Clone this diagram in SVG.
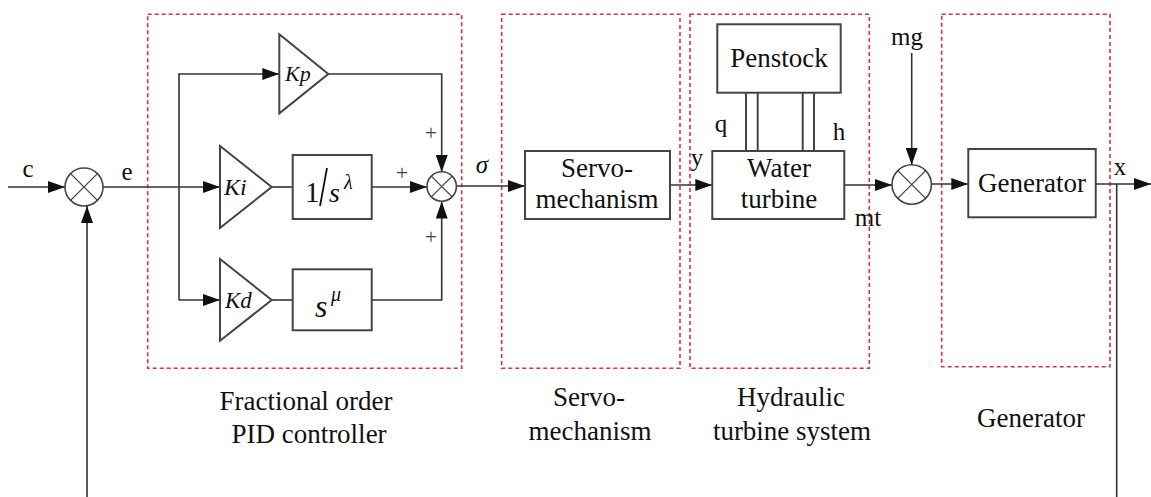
<svg xmlns="http://www.w3.org/2000/svg" width="1151" height="497" viewBox="0 0 1151 497" font-family="'Liberation Serif', 'DejaVu Serif', serif">
<defs>
<marker id="arr" markerUnits="userSpaceOnUse" markerWidth="17" markerHeight="12" refX="17" refY="6" orient="auto">
<path d="M0,0 L17,6 L0,12 z" fill="#111"/>
</marker>
<style>
.ln{fill:none;stroke:#333;stroke-width:1.6}
.bx{fill:#fff;stroke:#444;stroke-width:2}
.dash{fill:none;stroke:#e0303c;stroke-width:1.6;stroke-dasharray:4 3}
.sum{fill:#fff;stroke:#444;stroke-width:1.6}
.x{stroke:#444;stroke-width:1.3}
text{font-family:'Liberation Serif','DejaVu Serif',serif;fill:#111}
.t{font-size:27px;text-anchor:middle}
.lb{font-size:25px}
.it{font-style:italic}
.pl{font-size:22px;text-anchor:middle;fill:#444}
</style>
</defs>
<rect width="1151" height="497" fill="#fff"/>

<g id="groups">
<rect class="dash" x="147.7" y="14.3" width="314" height="354"/>
<rect class="dash" x="501.7" y="14.3" width="178.3" height="354"/>
<rect class="dash" x="690" y="14.3" width="179.3" height="354"/>
<rect class="dash" x="941.7" y="14.3" width="168.3" height="352.4"/>
<text class="t" x="306" y="410">Fractional order</text>
<text class="t" x="309" y="443">PID controller</text>
<text class="t" x="589" y="406">Servo-</text>
<text class="t" x="590" y="440">mechanism</text>
<text class="t" x="791" y="406">Hydraulic</text>
<text class="t" x="792" y="440">turbine system</text>
<text class="t" x="1031" y="427">Generator</text>
</g>

<g id="connectors">
<line class="ln" x1="8" y1="187" x2="65" y2="187" marker-end="url(#arr)"/>
<line class="ln" x1="103" y1="187" x2="220" y2="187" marker-end="url(#arr)"/>
<polyline class="ln" points="179,300 179,74 279.3,74" marker-end="url(#arr)"/>
<line class="ln" x1="179" y1="300" x2="220" y2="300" marker-end="url(#arr)"/>
<line class="ln" x1="87" y1="497" x2="87" y2="206" marker-end="url(#arr)"/>
<line class="ln" x1="271.7" y1="187" x2="292.7" y2="187"/>
<line class="ln" x1="371.7" y1="187" x2="427" y2="187" marker-end="url(#arr)"/>
<polyline class="ln" points="328.3,74 441.7,74 441.7,172" marker-end="url(#arr)"/>
<line class="ln" x1="271.7" y1="300" x2="292.7" y2="300"/>
<polyline class="ln" points="371.7,300 441.7,300 441.7,201.5" marker-end="url(#arr)"/>
<line class="ln" x1="456.4" y1="186" x2="525" y2="186" marker-end="url(#arr)"/>
<line class="ln" x1="670" y1="185" x2="712.3" y2="185" marker-end="url(#arr)"/>
<line class="ln" x1="844.3" y1="185" x2="892" y2="185" marker-end="url(#arr)"/>
<line class="ln" x1="911.7" y1="53" x2="911.7" y2="164.8" marker-end="url(#arr)"/>
<line class="ln" x1="931.4" y1="184" x2="968.3" y2="184" marker-end="url(#arr)"/>
<line class="ln" x1="1095.7" y1="184" x2="1151" y2="184" marker-end="url(#arr)"/>
<line class="ln" x1="1116.7" y1="184" x2="1116.7" y2="497"/>
<g stroke="#444" stroke-width="2">
<line x1="746" y1="92.7" x2="746" y2="151"/>
<line x1="757.7" y1="92.7" x2="757.7" y2="151"/>
<line x1="802.7" y1="92.7" x2="802.7" y2="151"/>
<line x1="814" y1="92.7" x2="814" y2="151"/>
</g>
<text class="lb" x="28" y="177" text-anchor="middle">c</text>
<text class="lb" x="127" y="180" text-anchor="middle">e</text>
<text class="lb it" x="482" y="173" text-anchor="middle" font-size="28">σ</text>
<text class="lb" x="697" y="166" text-anchor="middle">y</text>
<text class="lb" x="721" y="132" text-anchor="middle">q</text>
<text class="lb" x="839" y="140" text-anchor="middle">h</text>
<text class="lb" x="868" y="226" text-anchor="middle">mt</text>
<text class="lb" x="907" y="45" text-anchor="middle">mg</text>
<text class="lb" x="1120" y="175" text-anchor="middle">x</text>
<text class="pl" x="431" y="140">+</text>
<text class="pl" x="402" y="180">+</text>
<text class="pl" x="431" y="244">+</text>
</g>

<g id="sum1">
<circle class="sum" cx="84" cy="187" r="19"/>
<line class="x" x1="70.6" y1="173.6" x2="97.4" y2="200.4"/>
<line class="x" x1="97.4" y1="173.6" x2="70.6" y2="200.4"/>
</g>
<g id="kp">
<polygon class="bx" points="279.3,34.3 328.3,74 279.3,113.3"/>
<text class="it" x="285" y="81" font-size="22">Kp</text>
</g>
<g id="ki">
<polygon class="bx" points="220,146 271.7,187 220,228"/>
<text class="it" x="224" y="195" font-size="24">Ki</text>
</g>
<g id="kd">
<polygon class="bx" points="220,259 271.7,300 220,340.7"/>
<text class="it" x="225" y="308" font-size="23">Kd</text>
</g>
<g id="integ">
<rect class="bx" x="292.7" y="155" width="79" height="64"/>
<text x="305" y="202" font-size="29">1</text>
<line x1="327" y1="168" x2="320" y2="206" stroke="#111" stroke-width="1.8"/>
<text class="it" x="329" y="202" font-size="28">s</text>
<text class="it" x="344" y="189" font-size="20">λ</text>
</g>
<g id="deriv">
<rect class="bx" x="292.7" y="269.3" width="79" height="61"/>
<text class="it" x="315" y="317" font-size="32">s</text>
<text class="it" x="331" y="301" font-size="20">μ</text>
</g>
<g id="sum2">
<circle class="sum" cx="441.7" cy="186.5" r="14.7"/>
<line class="x" x1="431.3" y1="176.1" x2="452.1" y2="196.9"/>
<line class="x" x1="452.1" y1="176.1" x2="431.3" y2="196.9"/>
</g>
<g id="servo">
<rect class="bx" x="525" y="151" width="145" height="68"/>
<text class="t" x="597" y="177">Servo-</text>
<text class="t" x="597" y="208">mechanism</text>
</g>
<g id="turbine">
<rect class="bx" x="712.3" y="151" width="132" height="68"/>
<text class="t" x="779" y="177">Water</text>
<text class="t" x="779" y="208">turbine</text>
</g>
<g id="penstock">
<rect class="bx" x="717.3" y="24.3" width="123.4" height="68.4"/>
<text class="t" x="779" y="67">Penstock</text>
</g>
<g id="sum3">
<circle class="sum" cx="911.7" cy="184.5" r="19.7"/>
<line class="x" x1="897.8" y1="170.6" x2="925.6" y2="198.4"/>
<line class="x" x1="925.6" y1="170.6" x2="897.8" y2="198.4"/>
</g>
<g id="generator">
<rect class="bx" x="968.3" y="149" width="127.4" height="68.3"/>
<text class="t" x="1032" y="192">Generator</text>
</g>
</svg>
